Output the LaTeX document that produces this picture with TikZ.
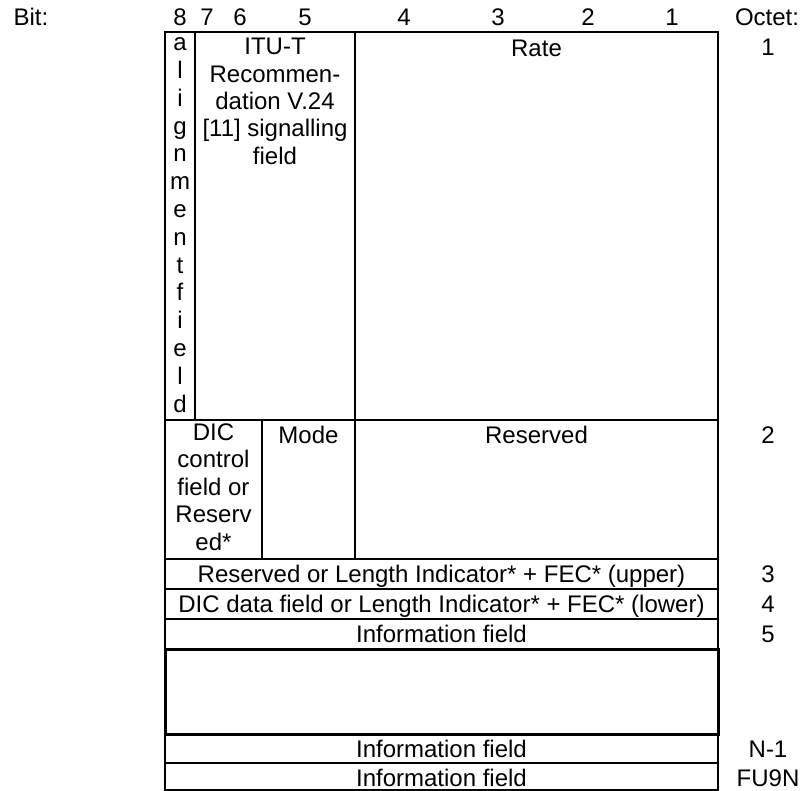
\documentclass[tikz,border=0pt]{standalone}
\usepackage{fontspec}
\setmainfont{Liberation Sans}
\usetikzlibrary{positioning}

\begin{document}
\begin{tikzpicture}[x=1pt, y=-1pt,
  every node/.style={font=\fontsize{24}{27.4}\selectfont, inner sep=0pt},
  field/.style={anchor=base, align=center},
  tall/.style={anchor=north, align=center, execute at begin node=\strut},
  letters/.style={tall, font=\fontsize{24}{27.8}\selectfont},
  octet/.style={anchor=base},
  frame/.style={draw, line width=1.8pt},
  gapbox/.style={draw, line width=3pt}
]
\useasboundingbox (0,0) rectangle (802,791);

% header
\node[octet] (bit) at (31,26) {Bit:};
\node[octet] (b8) at (180,26) {8};
\node[octet] (b7) at (207,26) {7};
\node[octet] (b6) at (240,26) {6};
\node[octet] (b5) at (305,26) {5};
\node[octet] (b4) at (404,26) {4};
\node[octet] (b3) at (498,26) {3};
\node[octet] (b2) at (588,26) {2};
\node[octet] (b1) at (672,26) {1};
\node[octet] (oct) at (767,26) {Octet:};

% octet 1
\draw[frame] (165,32) rectangle (195,420);
\draw[frame] (195,32) rectangle (355,420);
\draw[frame] (355,32) rectangle (718,420);
\node[letters] (align) at (180,37.5) {a\\l\\i\\g\\n\\m\\e\\n\\t\\f\\i\\e\\l\\d};
\node[tall] (itut) at (275,38) {ITU-T\\Recommen-\\dation V.24\\{[11]} signalling\\field};
\node[field] (rate) at (536.5,57) {Rate};
\node[octet] (o1) at (768,56) {1};

% octet 2
\draw[frame] (165,420) rectangle (262,559);
\draw[frame] (262,420) rectangle (355,559);
\draw[frame] (355,420) rectangle (718,559);
\node[tall] (dic) at (213.5,423.5) {DIC\\control\\field or\\Reserv\\ed*};
\node[field] (mode) at (308.5,443) {Mode};
\node[field] (res) at (536.5,443) {Reserved};
\node[octet] (o2) at (768,443) {2};

% octets 3 to FU9N
\draw[frame] (165,559) rectangle (718,589);
\draw[frame] (165,589) rectangle (718,619);
\draw[frame] (165,619) rectangle (718,649);
\draw[gapbox] (165,649) rectangle (718,734);
\draw[frame] (165,734) rectangle (718,763);
\draw[frame] (165,763) rectangle (718,790);
\node[field] (upper) at (441.5,582) {Reserved or Length Indicator* + FEC* (upper)};
\node[field] (lower) at (441.5,612) {DIC data field or Length Indicator* + FEC* (lower)};
\node[field] (info5) at (441.5,642) {Information field};
\node[field] (infon) at (441.5,757) {Information field};
\node[field] (infol) at (441.5,786) {Information field};
\node[octet] (o3) at (768,582) {3};
\node[octet] (o4) at (768,612) {4};
\node[octet] (o5) at (768,642) {5};
\node[octet] (on) at (768,757) {N-1};
\node[octet] (ol) at (768,786) {FU9N};
\end{tikzpicture}
\end{document}
